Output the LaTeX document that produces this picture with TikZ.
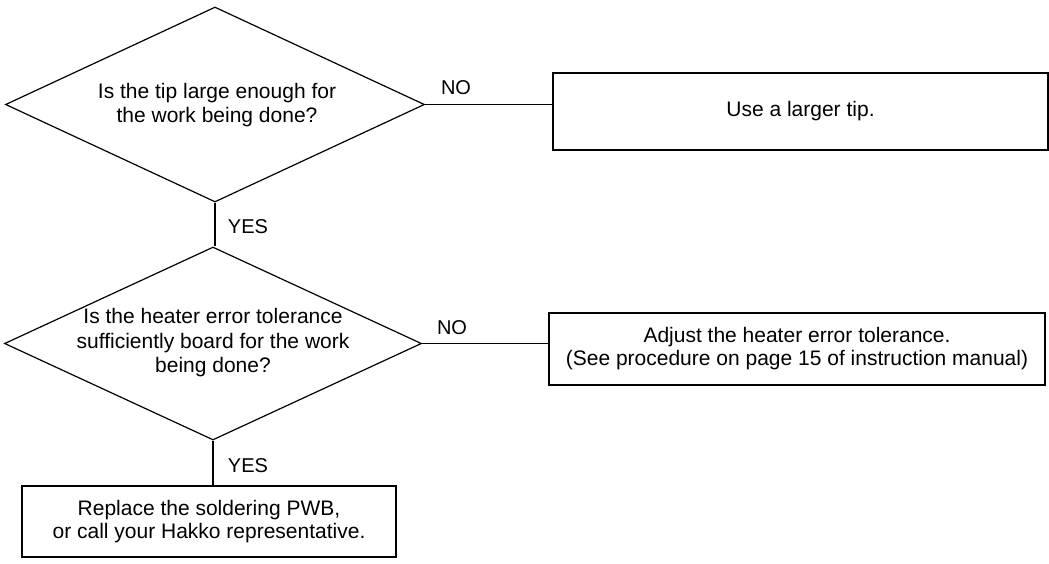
\documentclass[tikz,border=0pt]{standalone}
\usepackage{fontspec}
\setmainfont{Liberation Sans}
\usetikzlibrary{shapes.geometric}
\begin{document}
\begin{tikzpicture}[x=1pt,y=-1pt,line width=1.2pt,
  dia/.style={draw, diamond, inner sep=0pt},
  txt/.style={font=\fontsize{21}{24.5}\selectfont, align=center, inner sep=0pt},
  box/.style={draw, rectangle, inner sep=0pt, font=\fontsize{21}{23}\selectfont, align=center},
  lbl/.style={font=\fontsize{20}{24}\selectfont, inner sep=0pt}]
\useasboundingbox (0,0) rectangle (1049,563);
% decisions
\node[dia, minimum width=419pt, minimum height=195pt] (d1) at (215,104.5) {};
\node[txt] (d1t) at (217,105) {Is the tip large enough for\\the work being done?};
\node[dia, minimum width=417pt, minimum height=193pt] (d2) at (213,343.5) {};
\node[txt] (d2t) at (213,343) {Is the heater error tolerance\\sufficiently board for the work\\being done?};
% boxes
\node[box, minimum width=495pt, minimum height=77pt] (b1) at (800.5,111.5) {Use a larger tip.};
\node[box, minimum width=496pt, minimum height=72pt] (b2) at (797,349) {Adjust the heater error tolerance.\\(See procedure on page 15 of instruction manual)};
\node[box, minimum width=374pt, minimum height=71pt] (b3) at (209,521.5) {Replace the soldering PWB,\\or call your Hakko representative.};
% connectors
\draw (d1.east) -- (d1.east -| b1.west);
\draw (d2.east) -- (d2.east -| b2.west);
\draw (d1.south) -- (d1.south |- d2.north);
\draw (d2.south) -- (d2.south |- b3.north);
% labels
\node[lbl] (no1) at (456,88) {NO};
\node[lbl] (no2) at (452,328) {NO};
\node[lbl] (yes1) at (248,227) {YES};
\node[lbl] (yes2) at (248,466) {YES};
\end{tikzpicture}
\end{document}
